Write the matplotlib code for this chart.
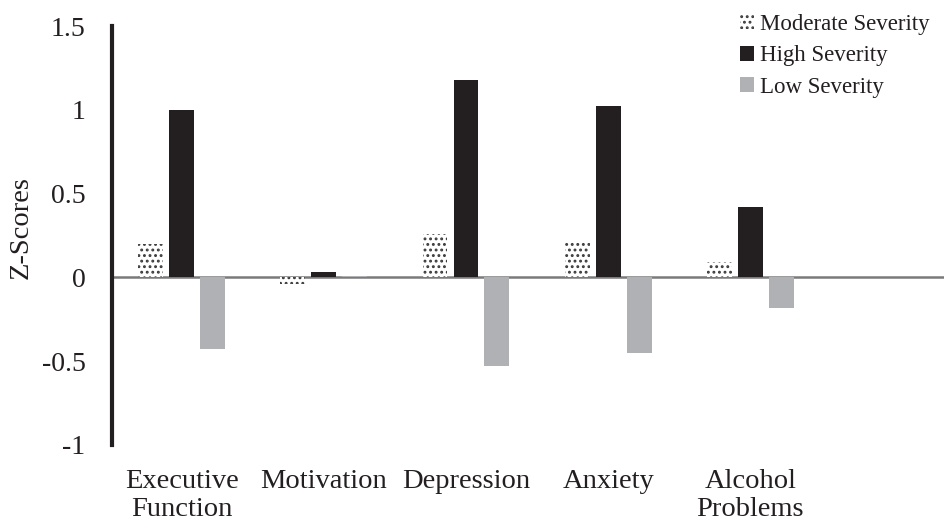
import numpy as np
import matplotlib.pyplot as plt
from matplotlib.patches import Patch

# categories and z-scores
categories = ["Executive\nFunction", "Motivation", "Depression", "Anxiety", "Alcohol\nProblems"]
moderate = [0.20, -0.04, 0.26, 0.22, 0.09]
high = [1.00, 0.035, 1.18, 1.02, 0.42]
low = [-0.425, 0.01, -0.53, -0.45, -0.18]

plt.rcParams['font.family'] = ['Liberation Serif', 'DejaVu Serif']
plt.rcParams['hatch.linewidth'] = 1.3

fig = plt.figure(figsize=(9.45, 5.21), dpi=100)
ax = fig.add_axes([0.1185, 0.146, 0.8815, 0.804])

x = np.arange(len(categories))
w = 0.175
off = 0.218
dark = '#231f20'
grey = '#b0b1b4'

ax.bar(x - off, moderate, w, color='white', edgecolor='#3a3a3a', linewidth=0, hatch='...')
ax.bar(x, high, w, color=dark, linewidth=0)
ax.bar(x + off, low, w, color=grey, linewidth=0)

ax.axhline(0, color='#7a7a7a', linewidth=1.8, zorder=0)

ax.set_xlim(-0.49, 5.37)
ax.set_ylim(-1, 1.5)
ax.set_yticks([-1, -0.5, 0, 0.5, 1, 1.5])
ax.set_yticklabels(['-1', '-0.5', '0', '0.5', '1', '1.5'])
ax.set_xticks(x)
ax.set_xticklabels(categories, linespacing=1.2)
ax.tick_params(axis='both', length=0, colors='#231f20')
ax.tick_params(axis='y', pad=19, labelsize=20)
ax.tick_params(axis='x', pad=17, labelsize=20.5)

for s in ['top', 'right', 'bottom']:
    ax.spines[s].set_visible(False)
ax.spines['left'].set_linewidth(3)
ax.spines['left'].set_color(dark)

ax.set_ylabel('Z-Scores', fontsize=20.5, color='#231f20')
ax.yaxis.set_label_coords(-0.094, 0.52)

handles = [
    Patch(facecolor='white', edgecolor='#3a3a3a', linewidth=0, hatch='...', label='Moderate Severity'),
    Patch(facecolor=dark, linewidth=0, label='High Severity'),
    Patch(facecolor=grey, linewidth=0, label='Low Severity'),
]
leg = ax.legend(handles=handles, loc='upper right', bbox_to_anchor=(1.006, 1.078), frameon=False,
                fontsize=16.5, handlelength=0.6, handleheight=0.6, handletextpad=0.25,
                labelspacing=0.45)
for t in leg.get_texts():
    t.set_color('#231f20')

fig.savefig('out.png', dpi=100)
